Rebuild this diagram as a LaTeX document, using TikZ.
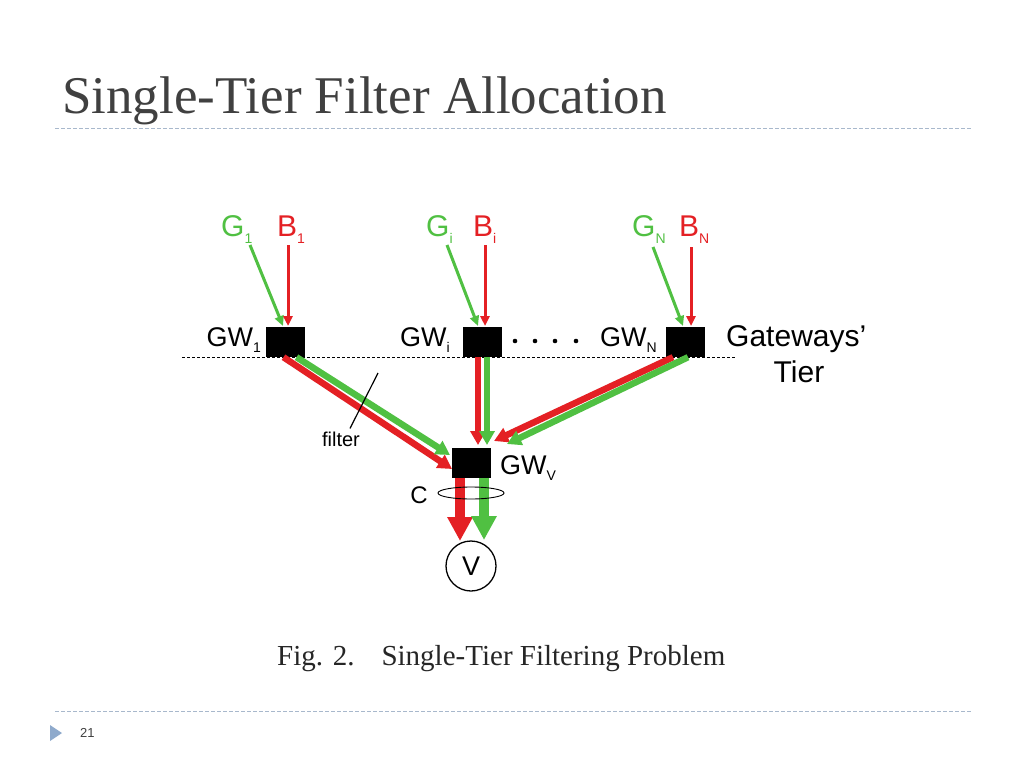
\documentclass[tikz,border=0pt]{standalone}
\usepackage{fontspec}
\setmainfont{Liberation Serif}
\setsansfont{Liberation Sans}
\usetikzlibrary{arrows.meta,calc}
\definecolor{rd}{RGB}{228,32,36}
\definecolor{gn}{RGB}{80,192,66}
\definecolor{titlegray}{RGB}{64,64,64}
\definecolor{rulec}{RGB}{168,184,204}
\definecolor{markc}{RGB}{143,170,204}
\newcommand{\sbs}[1]{\raisebox{-0.45ex}{\fontsize{14}{14}\selectfont #1}}
\begin{document}
\begin{tikzpicture}[x=1pt,y=-1pt,
  gwbox/.style={fill=black,minimum width=39pt,minimum height=30pt,inner sep=0pt},
  lab/.style={font=\sffamily\fontsize{27}{30}\selectfont,inner sep=0pt},
  srclab/.style={font=\sffamily\fontsize{30}{34}\selectfont,inner sep=0pt,anchor=base west},
  thinr/.style={rd,line width=3pt,-{Triangle[length=10pt,width=9pt]}},
  thing/.style={gn,line width=3pt,-{Triangle[length=10pt,width=9pt]}},
  midr/.style={rd,line width=6.5pt,-{Triangle[length=14pt,width=15pt]}},
  midg/.style={gn,line width=6.5pt,-{Triangle[length=14pt,width=15pt]}},
  bigr/.style={rd,line width=10pt,-{Triangle[length=24pt,width=24pt]}},
  bigg/.style={gn,line width=10pt,-{Triangle[length=24pt,width=24pt]}},
  rulel/.style={rulec,line width=0.8pt,dash pattern=on 4pt off 2pt}]
\useasboundingbox (0,0) rectangle (1024,768);
\fill[white] (0,0) rectangle (1024,768);

% slide frame
\node[anchor=base west,inner sep=0pt,text=titlegray,font=\fontsize{53}{60}\selectfont] (title) at (62,113) {Single-Tier Filter Allocation};
\draw[rulel] (55,128) -- (972,128);
\draw[rulel] (55,711) -- (972,711);
\fill[markc] (50,725) -- (50,741) -- (62,733) -- cycle;
\node[anchor=west,inner sep=0pt,font=\sffamily\fontsize{13}{16}\selectfont,text=titlegray] (pnum) at (80,733) {21};

% tier line
\draw[black,line width=1pt,dash pattern=on 3pt off 2pt] (182,357) -- (735,357);

% coordinates
\coordinate (g1s) at (250,245); \coordinate (g1e) at (283,326);
\coordinate (b1s) at (288,245); \coordinate (b1e) at (288,326);
\coordinate (gis) at (447,245); \coordinate (gie) at (478,326);
\coordinate (bis) at (485,245); \coordinate (bie) at (485,326);
\coordinate (gns) at (653,247); \coordinate (gne) at (683,326);
\coordinate (bns) at (691,247); \coordinate (bne) at (691,326);

% source labels
\node[srclab,text=gn] (g1) at (221,236) {G\sbs{1}};
\node[srclab,text=rd] (b1) at (277,236) {B\sbs{1}};
\node[srclab,text=gn] (gi) at (426,236) {G\sbs{i}};
\node[srclab,text=rd] (bi) at (473,236) {B\sbs{i}};
\node[srclab,text=gn] (gn) at (632,236) {G\sbs{N}};
\node[srclab,text=rd] (bn) at (679,236) {B\sbs{N}};

% incoming arrows
\draw[thing] (g1s) -- (g1e);
\draw[thinr] (b1s) -- (b1e);
\draw[thing] (gis) -- (gie);
\draw[thinr] (bis) -- (bie);
\draw[thing] (gns) -- (gne);
\draw[thinr] (bns) -- (bne);

% gateway boxes
\node[gwbox] (gw1) at (285.5,342) {};
\node[gwbox] (gwi) at (482.5,342) {};
\node[gwbox] (gwn) at (685,342) {};
\node[gwbox] (gwv) at (471.5,463) {};

% gateway to GWV
\draw[midr] ($(gw1.south)+(-2,0)$) -- (452,469);
\draw[midg] ($(gw1.south)+(11,0)$) -- (450,455);
\draw[midr] ($(gwi.south)+(-4.5,0)$) -- (478,445);
\draw[midg] ($(gwi.south)+(4.5,0)$) -- (487,445);
\draw[midr] ($(gwn.south)+(-12,0)$) -- (494,441);
\draw[midg] ($(gwn.south)+(3,0)$) -- (507,444);

% V
\node[circle,draw,line width=1.3pt,minimum size=50pt,inner sep=0pt,font=\sffamily\fontsize{27}{30}\selectfont] (v) at (471,566) {V};
\draw[bigr] ($(gwv.south)+(-11.5,0)$) -- (460,541);
\draw[bigg] ($(gwv.south)+(12.5,0)$) -- (484,540);
\draw[black,line width=0.9pt] (471,493) ellipse (33pt and 6pt);
\node[lab,font=\sffamily\fontsize{24}{26}\selectfont] (c) at (419,495) {C};

% labels
\node[lab,anchor=base east] (gw1l) at (261,346) {GW\sbs{1}};
\node[lab,anchor=base east] (gwil) at (450,346) {GW\sbs{i}};
\node[lab,anchor=base east] (gwnl) at (657,346) {GW\sbs{N}};
\node[lab,anchor=base west] (gwvl) at (500,474) {GW\sbs{V}};
\node[lab,anchor=base west,font=\sffamily\fontsize{30}{34}\selectfont] (gwt) at (726,346) {Gateways'};
\node[lab,anchor=base,font=\sffamily\fontsize{30}{34}\selectfont] (tier) at (799,382) {Tier};
\foreach \i/\xx in {1/515,2/535,3/555,4/576} {\fill (\xx,341) circle (2.3pt);}

% filter
\node[lab,font=\sffamily\fontsize{20}{24}\selectfont] (filt) at (341,439) {filter};
\coordinate (fp) at (378,373);
\draw[black,line width=1.2pt] (fp) -- ($(filt.north)+(9,-3)$);

% caption
\node[anchor=base west,inner sep=0pt,text=black!85,font=\fontsize{29}{33}\selectfont] (cap) at (277,665) {Fig. 2.\hspace{27pt}Single-Tier Filtering Problem};
\end{tikzpicture}
\end{document}
